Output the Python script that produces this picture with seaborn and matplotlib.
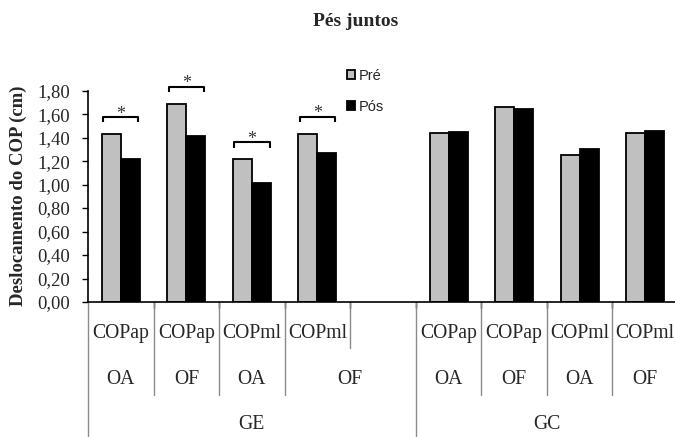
import matplotlib
matplotlib.use("Agg")
import matplotlib.pyplot as plt
import matplotlib.transforms as mtransforms
from matplotlib.lines import Line2D
from matplotlib.ticker import FuncFormatter, FixedLocator
import seaborn as sns
import pandas as pd

# ---- data ----
grupos = ["GE", "GC"]
variaveis = ["COPap", "COPap", "COPml", "COPml"]
condicoes = ["OA", "OF", "OA", "OF"]
pre_GE = [1.43, 1.69, 1.215, 1.435]
pos_GE = [1.22, 1.41, 1.01, 1.27]
pre_GC = [1.44, 1.66, 1.255, 1.44]
pos_GC = [1.45, 1.645, 1.30, 1.455]
signif_GE = [True, True, True, True]
signif_GC = [False, False, False, False]
momentos = ["Pré", "Pós"]
y_ticks = [0.0, 0.2, 0.4, 0.6, 0.8, 1.0, 1.2, 1.4, 1.6, 1.8]

# ---- long table ----
rows = []
vals = {"GE": (pre_GE, pos_GE), "GC": (pre_GC, pos_GC)}
for g in grupos:
    pre, pos = vals[g]
    for i, (v, c) in enumerate(zip(variaveis, condicoes)):
        key = f"{g}|{v}|{c}|{i}"
        rows.append({"cat": key, "Momento": momentos[0], "valor": pre[i]})
        rows.append({"cat": key, "Momento": momentos[1], "valor": pos[i]})
df = pd.DataFrame(rows)

order = [f"GE|{v}|{c}|{i}" for i, (v, c) in enumerate(zip(variaveis, condicoes))]
order += ["GE|gap"]
order += [f"GC|{v}|{c}|{i}" for i, (v, c) in enumerate(zip(variaveis, condicoes))]

sns.set_theme(style="white")
plt.rcParams["font.family"] = ["Liberation Serif", "DejaVu Serif"]

fig = plt.figure(figsize=(6.75, 4.37), dpi=100)
ax = fig.add_axes([88 / 675, (437 - 302) / 437, 590 / 675, 211.3 / 437])

sns.barplot(data=df, x="cat", y="valor", hue="Momento", order=order,
            hue_order=momentos, palette={"Pré": "#C0C0C0", "Pós": "#000000"},
            width=0.58, edgecolor="black", linewidth=1.3, errorbar=None,
            saturation=1, ax=ax)

ax.set_xlim(-0.5, 8.5)
ax.set_ylim(0, 1.8)
ax.set_xlabel("")
ax.set_ylabel("")
ax.yaxis.set_major_locator(FixedLocator(y_ticks))
ax.yaxis.set_major_formatter(FuncFormatter(lambda v, p: f"{v:.2f}".replace(".", ",")))
ax.tick_params(axis="y", direction="out", length=4, width=1, color="black",
               pad=9, labelsize=13.5, left=True)
ax.set_xticks([0.5, 1.5, 2.5, 3.5, 4.5, 5.5, 6.5, 7.5])
ax.set_xticklabels([])
ax.tick_params(axis="x", direction="out", length=4.5, width=1, color="black",
               bottom=True)
for s in ["top", "right"]:
    ax.spines[s].set_visible(False)
for s in ["left", "bottom"]:
    ax.spines[s].set_color("black")
    ax.spines[s].set_linewidth(1.2)
ax.grid(False)

# ---- multi-level category labels ----
trans = mtransforms.blended_transform_factory(ax.transData, ax.transAxes)
y1, y2, y3 = -0.147, -0.369, -0.582
ybot, ymid, yshort = -0.64, -0.44, -0.218
gray = "#8a8a8a"
fs_cat = 14.2
for idx, key in enumerate(order):
    parts = key.split("|")
    if parts[1] == "gap":
        continue
    ax.text(idx, y1, parts[1], transform=trans, ha="center", va="center",
            fontsize=fs_cat, clip_on=False)

lvl2 = [(0, "OA"), (1, "OF"), (2, "OA"), (3.5, "OF"),
        (5, "OA"), (6, "OF"), (7, "OA"), (8, "OF")]
for x, t in lvl2:
    ax.text(x, y2, t, transform=trans, ha="center", va="center",
            fontsize=fs_cat, clip_on=False)
ax.text(2, y3, grupos[0], transform=trans, ha="center", va="center",
        fontsize=fs_cat, clip_on=False)
ax.text(6.5, y3, grupos[1], transform=trans, ha="center", va="center",
        fontsize=fs_cat, clip_on=False)

seps = [(-0.5, ybot), (0.5, ymid), (1.5, ymid), (2.5, ymid), (3.5, yshort),
        (4.5, ybot), (5.5, ymid), (6.5, ymid), (7.5, ymid)]
for x, yb in seps:
    ax.add_line(Line2D([x, x], [0, yb], transform=trans, color=gray, lw=1,
                       clip_on=False, zorder=1))

# ---- significance brackets ----
half = 0.27
for i, sig in enumerate(signif_GE):
    if not sig:
        continue
    top = max(pre_GE[i], pos_GE[i]) + 0.145
    ax.plot([i - half, i - half, i + half, i + half],
            [top - 0.045, top, top, top - 0.045], color="black", lw=1.5,
            clip_on=False, solid_capstyle="butt")
    ax.annotate("*", (i, top), xytext=(0, -4), textcoords="offset points",
                ha="center", va="bottom", fontsize=13, color="#333333",
                annotation_clip=False)

# ---- legend ----
sns.move_legend(ax, loc="upper left", bbox_to_anchor=(347 / 675, 1 - 68.5 / 437),
                bbox_transform=fig.transFigure, frameon=False, title=None,
                handlelength=0.55, handleheight=0.55, handletextpad=0.25,
                labelspacing=1.2, borderaxespad=0, borderpad=0,
                prop={"family": "Liberation Sans", "size": 10.5})

# ---- titles ----
fig.text(356 / 675, 1 - 22 / 437, "Pés juntos", ha="center", va="center",
         fontsize=14, fontweight="bold")
fig.text(18.5 / 675, 1 - 196 / 437, "Deslocamento do COP (cm)", rotation=90,
         ha="center", va="center", fontsize=13.5, fontweight="bold")

fig.savefig("out.png", dpi=100)
